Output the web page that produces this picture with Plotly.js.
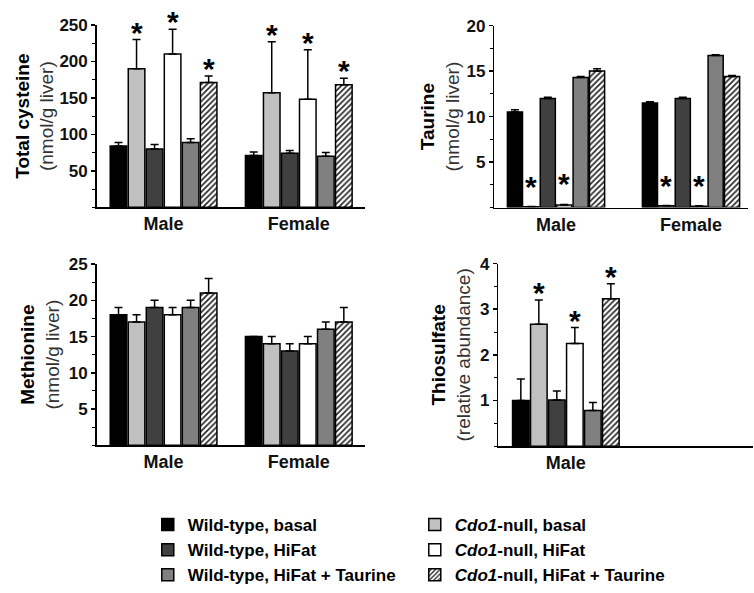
<!DOCTYPE html>
<html>
<head>
<meta charset="utf-8">
<script src="https://cdn.plot.ly/plotly-3.0.1.min.js"></script>
<style>html,body{margin:0;padding:0;background:#fff;}#chart{width:754px;height:593px;}</style>
</head>
<body>
<div id="chart"></div>
<script>
// ---------- data ----------
const sexes = ['Male', 'Female'];
const groupNames = [
  'Wild-type, basal',
  '<i>Cdo1</i>-null, basal',
  'Wild-type, HiFat',
  '<i>Cdo1</i>-null, HiFat',
  'Wild-type, HiFat + Taurine',
  '<i>Cdo1</i>-null, HiFat + Taurine'
];

// Total cysteine (nmol/g liver)
const cysMale      = [84, 190, 80, 210, 89, 171];
const cysMaleErr   = [5, 40, 6, 34, 5, 9];
const cysFemale    = [71, 157, 74, 148, 70, 168];
const cysFemaleErr = [5, 70, 4, 68, 5, 9];
const cysSigMale   = [0, 1, 0, 1, 0, 1];
const cysSigFemale = [0, 1, 0, 1, 0, 1];

// Taurine (nmol/g liver)
const tauMale      = [10.5, 0.1, 12.0, 0.3, 14.3, 15.0];
const tauMaleErr   = [0.25, 0.02, 0.12, 0.05, 0.12, 0.25];
const tauFemale    = [11.5, 0.2, 12.0, 0.15, 16.7, 14.4];
const tauFemaleErr = [0.12, 0.02, 0.12, 0.05, 0.1, 0.12];
const tauSigMale   = [0, 1, 0, 1, 0, 0];
const tauSigFemale = [0, 1, 0, 1, 0, 0];

// Methionine (nmol/g liver)
const metMale      = [18, 17, 19, 18, 19, 21];
const metMaleErr   = [1, 1, 1, 1, 1, 2];
const metFemale    = [15, 14, 13, 14, 16, 17];
const metFemaleErr = [0, 1, 1, 1, 1, 2];
const metSigMale   = [0, 0, 0, 0, 0, 0];
const metSigFemale = [0, 0, 0, 0, 0, 0];

// Thiosulfate (relative abundance), male only
const thioMale     = [1.0, 2.67, 1.01, 2.25, 0.78, 3.23];
const thioMaleErr  = [0.47, 0.53, 0.2, 0.35, 0.18, 0.33];
const thioSigMale  = [0, 1, 0, 1, 0, 1];

// ---------- styles ----------
const FONT = 'Arial, "Liberation Sans", sans-serif';
const fills = ['#000000', '#c0c0c0', '#404040', '#ffffff', '#808080', '#ffffff'];

function barTraces(ax, cats, vals, errs, slot, showLegend) {
  const traces = [];
  for (let g = 0; g < 6; g++) {
    const t = {
      type: 'bar',
      name: groupNames[g],
      legendgroup: 'g' + g,
      showlegend: showLegend,
      x: cats,
      y: vals.map(v => v[g]),
      xaxis: 'x' + ax, yaxis: 'y' + ax,
      offset: -3 * slot + g * slot + slot * 0.04,
      width: slot * 0.92,
      marker: { color: fills[g], line: { color: '#000', width: 1.5 } },
      error_y: {
        type: 'data', symmetric: false,
        array: errs.map(e => e[g]),
        arrayminus: errs.map(() => 0),
        color: '#000', thickness: 1.5, width: 4
      },
      hoverinfo: 'skip'
    };
    if (g === 5) {
      t.marker.pattern = { shape: '/', fgcolor: '#222', bgcolor: '#fff', size: 4, solidity: 0.4 };
    }
    traces.push(t);
  }
  return traces;
}

function stars(ax, vals, errs, sigs, slot, yshift) {
  const out = [];
  for (let c = 0; c < vals.length; c++) {
    for (let g = 0; g < 6; g++) {
      if (!sigs[c][g]) continue;
      out.push({
        xref: 'x' + ax, yref: 'y' + ax,
        x: c - 3 * slot + (g + 0.5) * slot,
        y: vals[c][g] + errs[c][g],
        text: '<b>*</b>', showarrow: false, yanchor: 'bottom',
        yshift: yshift,
        font: { family: FONT, size: 30, color: '#000' }
      });
    }
  }
  return out;
}

const slotA = 0.8 / 6;   // panels with wider bars
const slotB = 0.73 / 6;  // taurine panel

let data = [];
data = data.concat(barTraces('', sexes, [cysMale, cysFemale], [cysMaleErr, cysFemaleErr], slotA, true));
data = data.concat(barTraces('2', sexes, [tauMale, tauFemale], [tauMaleErr, tauFemaleErr], slotB, false));
data = data.concat(barTraces('3', sexes, [metMale, metFemale], [metMaleErr, metFemaleErr], slotA, false));
data = data.concat(barTraces('4', ['Male'], [thioMale], [thioMaleErr], slotA, false));

let annotations = [];
annotations = annotations.concat(stars('', [cysMale, cysFemale], [cysMaleErr, cysFemaleErr], [cysSigMale, cysSigFemale], slotA, -11));
annotations = annotations.concat(stars('2', [tauMale, tauFemale], [tauMaleErr, tauFemaleErr], [tauSigMale, tauSigFemale], slotB, 2));
annotations = annotations.concat(stars('4', [thioMale], [thioMaleErr], [thioSigMale], slotA, -11));

function xAxis(domain, range, anchor) {
  return {
    domain: domain, range: range, anchor: anchor, type: 'category',
    showline: true, linecolor: '#000', linewidth: 1.5, ticks: '', showgrid: false, zeroline: false,
    tickfont: { family: FONT, size: 18, color: '#111', weight: 'bold' }, fixedrange: true
  };
}
function yAxis(domain, range, tickvals, minorDtick, anchor, title, standoff) {
  return {
    domain: domain, range: range, anchor: anchor,
    showline: true, linecolor: '#000', linewidth: 1.5, showgrid: false, zeroline: false,
    tickmode: 'array', tickvals: tickvals, ticks: 'outside', ticklen: 4, tickwidth: 1.5, tickcolor: '#000',
    minor: { tick0: 0, dtick: minorDtick, ticks: 'outside', ticklen: 3, tickwidth: 1, tickcolor: '#000', showgrid: false },
    tickfont: { family: FONT, size: 17, color: '#111', weight: 'bold' },
    title: { text: title, standoff: standoff, font: { family: FONT, size: 19, color: '#000' } },
    fixedrange: true
  };
}

const unitStyle = '<span style="font-size:19px;font-weight:normal;color:#333">';

const layout = {
  width: 754, height: 593,
  margin: { l: 0, r: 0, t: 0, b: 0 },
  paper_bgcolor: '#fff', plot_bgcolor: 'rgba(0,0,0,0)',
  barmode: 'overlay',
  font: { family: FONT, color: '#000' },
  xaxis:  xAxis([0.1282, 0.4841], [-0.495, 1.49], 'y'),
  yaxis:  yAxis([0.6492, 0.9578], [0, 250], [50, 100, 150, 200, 250], 25, 'x',
                '<b>Total cysteine</b><br>' + unitStyle + '(nmol/g liver)</span>', 0),
  xaxis2: xAxis([0.6556, 0.9920], [-0.457, 1.422], 'y2'),
  yaxis2: yAxis([0.6487, 0.9567], [0, 20], [5, 10, 15, 20], 2.5, 'x2',
                '<b>Taurine</b><br>' + unitStyle + '(nmol/g liver)</span>', 2),
  xaxis3: xAxis([0.1282, 0.4841], [-0.495, 1.49], 'y3'),
  yaxis3: yAxis([0.2467, 0.5531], [0, 25], [5, 10, 15, 20, 25], 2.5, 'x3',
                '<b>Methionine</b><br>' + unitStyle + '(nmol/g liver)</span>', 4),
  xaxis4: xAxis([0.6609, 0.9987], [-0.5, 1.386], 'y4'),
  yaxis4: yAxis([0.2450, 0.5540], [0, 4], [1, 2, 3, 4], 0.5, 'x4',
                '<b>Thiosulfate</b><br>' + unitStyle + '(relative abundance)</span>', 4),
  annotations: annotations,
  showlegend: true,
  legend: {
    orientation: 'h', x: 0.196, xanchor: 'left', y: 0.142, yanchor: 'top',
    entrywidth: 222, entrywidthmode: 'pixels', traceorder: 'normal',
    font: { family: FONT, size: 17, color: '#000', weight: 'bold' },
    bgcolor: 'rgba(0,0,0,0)', itemclick: false, itemdoubleclick: false
  }
};

Plotly.newPlot('chart', data, layout, { displayModeBar: false, staticPlot: true });
</script>
</body>
</html>
